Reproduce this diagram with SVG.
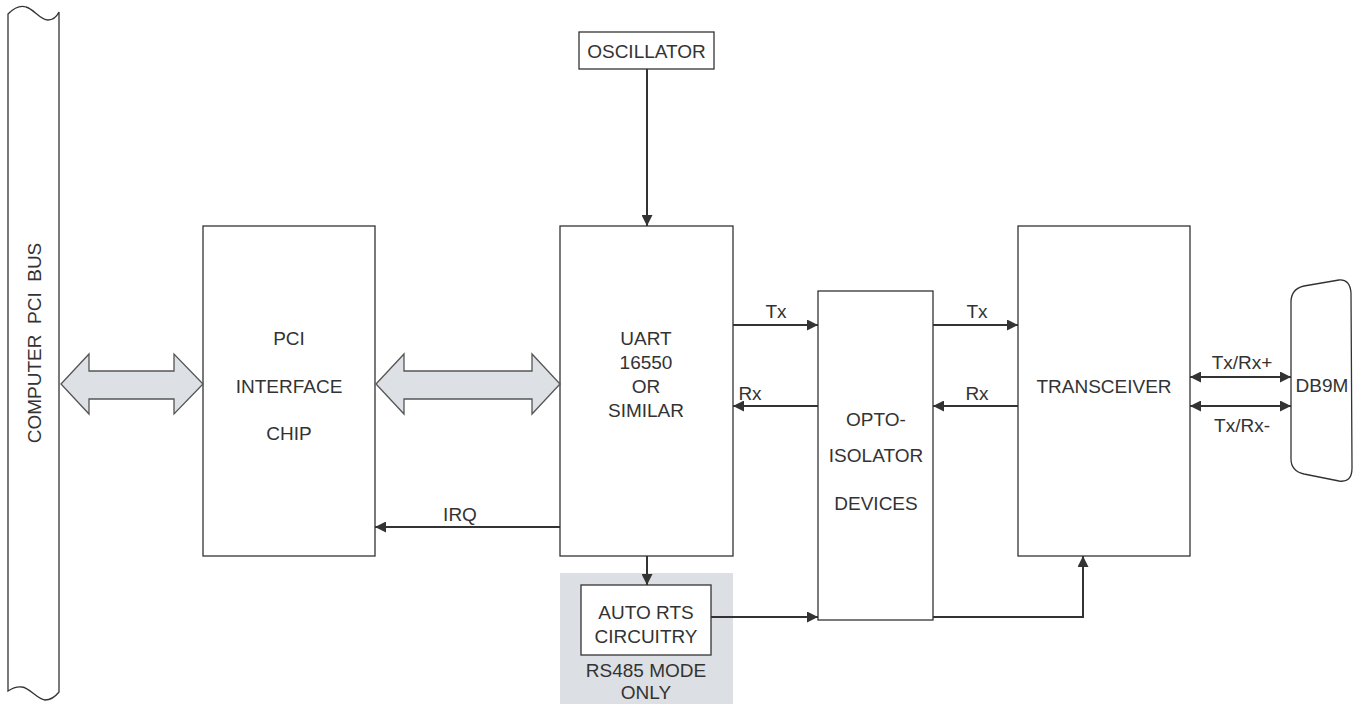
<svg xmlns="http://www.w3.org/2000/svg" width="1359" height="704" viewBox="0 0 1359 704">
<style>
.box{fill:#fff;stroke:#333;stroke-width:1.3}
.t{font-family:"Liberation Sans",Arial,sans-serif;font-size:19px;fill:#333;text-anchor:middle}
.ln{fill:none;stroke:#333;stroke-width:2}
.big{fill:#dde0e4;stroke:#555;stroke-width:1.3}
</style>
<defs>
<marker id="ah" viewBox="0 0 10 10" refX="10" refY="5" markerWidth="5.5" markerHeight="5.5" orient="auto-start-reverse" markerUnits="strokeWidth">
<path d="M0,0 L10,5 L0,10 Z" fill="#333"/>
</marker>
</defs>
<rect x="0" y="0" width="1359" height="704" fill="#fff"/>
<g id="pcibus">
<path class="box" d="M8,14 C14,8 20,5 26,7 C34,9 40,20 48,20 C53,20 57,16 59,12 V692 C55,697 50,700 45,700 C37,699 30,688 22,687 C16,686 11,689 8,691 Z"/>
<text class="t" transform="translate(41,343) rotate(-90)" xml:space="preserve">COMPUTER  PCI  BUS</text>
</g>
<g id="oscillator">
<rect class="box" x="579" y="32" width="135" height="37"/>
<text class="t" x="646.5" y="58">OSCILLATOR</text>
</g>
<g id="pci">
<rect class="box" x="203" y="226" width="172" height="330"/>
<text class="t" x="289" y="345">PCI</text>
<text class="t" x="289" y="393">INTERFACE</text>
<text class="t" x="289" y="440">CHIP</text>
</g>
<g id="uart">
<rect class="box" x="560" y="226" width="173" height="330"/>
<text class="t" x="646" y="345">UART</text>
<text class="t" x="646" y="369">16550</text>
<text class="t" x="646" y="393">OR</text>
<text class="t" x="646" y="417">SIMILAR</text>
</g>
<g id="opto">
<rect class="box" x="818" y="291" width="115" height="329"/>
<text class="t" x="876" y="426">OPTO-</text>
<text class="t" x="876" y="462">ISOLATOR</text>
<text class="t" x="876" y="510">DEVICES</text>
</g>
<g id="transceiver">
<rect class="box" x="1018" y="226" width="172" height="330"/>
<text class="t" x="1104" y="393">TRANSCEIVER</text>
</g>
<g id="db9m">
<path class="box" d="M1291,302 Q1291,289 1304,286 L1339,280 Q1350,279 1351,293 L1352,468 Q1352,483 1339,481 L1304,474 Q1291,471 1291,459 Z"/>
<text class="t" x="1322" y="392">DB9M</text>
</g>
<g id="rs485">
<rect x="560" y="573" width="173" height="131" fill="#dcdfe3"/>
<rect class="box" x="581" y="585" width="130" height="70"/>
<text class="t" x="646" y="619">AUTO RTS</text>
<text class="t" x="646" y="643">CIRCUITRY</text>
<text class="t" x="646" y="677">RS485 MODE</text>
<text class="t" x="646" y="699">ONLY</text>
</g>
<g id="connectors">
<path class="big" d="M61,384 L89,354 L89,371 L174,371 L174,354 L203,384 L174,414 L174,399 L89,399 L89,414 Z"/>
<path class="big" d="M376,384 L404,354 L404,371 L532,371 L532,354 L560,384 L532,414 L532,399 L404,399 L404,414 Z"/>
<line class="ln" x1="647" y1="69" x2="647" y2="226" marker-end="url(#ah)"/>
<line class="ln" x1="647" y1="556" x2="647" y2="585" marker-end="url(#ah)"/>
<line class="ln" x1="733" y1="325" x2="818" y2="325" marker-end="url(#ah)"/>
<line class="ln" x1="933" y1="325" x2="1018" y2="325" marker-end="url(#ah)"/>
<line class="ln" x1="818" y1="406" x2="733" y2="406" marker-end="url(#ah)"/>
<line class="ln" x1="1018" y1="406" x2="933" y2="406" marker-end="url(#ah)"/>
<line class="ln" x1="560" y1="527" x2="375" y2="527" marker-end="url(#ah)"/>
<line class="ln" x1="711" y1="617" x2="818" y2="617" marker-end="url(#ah)"/>
<polyline class="ln" points="933,617 1083,617 1083,556" marker-end="url(#ah)"/>
<line class="ln" x1="1190" y1="377" x2="1291" y2="377" marker-start="url(#ah)" marker-end="url(#ah)"/>
<line class="ln" x1="1190" y1="406" x2="1291" y2="406" marker-start="url(#ah)" marker-end="url(#ah)"/>
<text class="t" x="776" y="318">Tx</text>
<text class="t" x="977" y="318">Tx</text>
<text class="t" x="750" y="400">Rx</text>
<text class="t" x="977" y="400">Rx</text>
<text class="t" x="460" y="521">IRQ</text>
<text class="t" x="1242" y="369">Tx/Rx+</text>
<text class="t" x="1242" y="432">Tx/Rx-</text>
</g>
</svg>
